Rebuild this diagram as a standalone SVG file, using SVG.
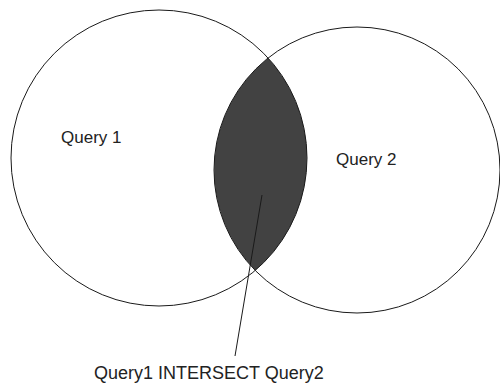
<svg xmlns="http://www.w3.org/2000/svg" width="500" height="387" viewBox="0 0 500 387">
<style>
.set{fill:none;stroke:#1a1a1a;stroke-width:1}
.lbl{font-family:"Liberation Sans",Arial,sans-serif;fill:#222}
</style>
<rect width="500" height="387" fill="#ffffff"/>
<g id="intersection">
<path d="M 268.1 58 A 148 148 0 0 1 255.3 270.4 A 143 143 0 0 1 268.1 58 Z" fill="#424242"/>
</g>
<g id="query1">
<circle class="set" cx="159" cy="158" r="148"/>
<text class="lbl" x="61" y="143" font-size="17">Query 1</text>
</g>
<g id="query2">
<circle class="set" cx="357" cy="170" r="143"/>
<text class="lbl" x="336" y="165" font-size="17">Query 2</text>
</g>
<g id="connectors">
<line x1="262" y1="195" x2="235" y2="356" stroke="#1a1a1a" stroke-width="1"/>
</g>
<g id="label">
<text class="lbl" x="94" y="379" font-size="18">Query1 INTERSECT Query2</text>
</g>
</svg>
